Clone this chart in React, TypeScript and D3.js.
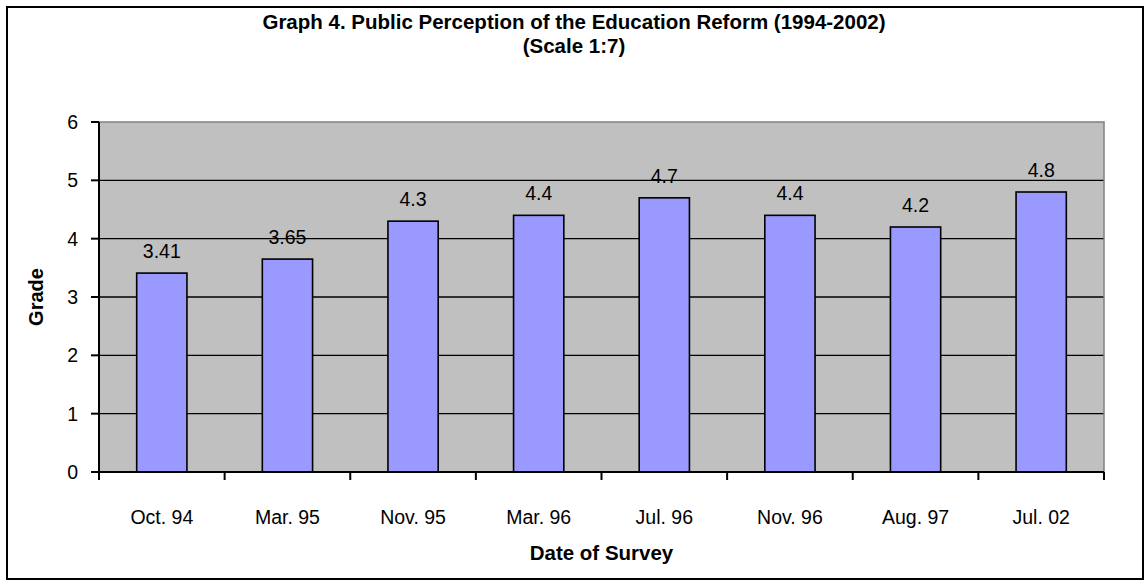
import React, { useEffect, useRef } from 'react';
import * as d3 from 'd3';

const categories = ['Oct. 94', 'Mar. 95', 'Nov. 95', 'Mar. 96', 'Jul. 96', 'Nov. 96', 'Aug. 97', 'Jul. 02'];
const grades = [3.41, 3.65, 4.3, 4.4, 4.7, 4.4, 4.2, 4.8];
const gradeLabels = ['3.41', '3.65', '4.3', '4.4', '4.7', '4.4', '4.2', '4.8'];
const yTicks = [0, 1, 2, 3, 4, 5, 6];

const FONT = "'Liberation Sans', Arial, sans-serif";

const App = () => {
  const ref = useRef<SVGSVGElement>(null);

  useEffect(() => {
    const svg = d3.select(ref.current);
    svg.selectAll('*').remove();

    const plot = { left: 99, right: 1104, top: 122, bottom: 472 };

    // outer frame
    svg.append('rect')
      .attr('x', 7).attr('y', 7)
      .attr('width', 1136).attr('height', 572)
      .attr('fill', '#fff')
      .attr('stroke', '#000')
      .attr('stroke-width', 2);

    const x = d3.scaleBand<string>()
      .domain(categories)
      .range([plot.left, plot.right])
      .paddingInner(0.6)
      .paddingOuter(0.3);

    const y = d3.scaleLinear().domain([0, 6]).range([plot.bottom, plot.top]);

    // plot background
    svg.append('rect')
      .attr('x', plot.left).attr('y', plot.top)
      .attr('width', plot.right - plot.left)
      .attr('height', plot.bottom - plot.top)
      .attr('fill', '#c0c0c0');

    // gridlines
    svg.append('g')
      .selectAll('line')
      .data(yTicks.filter(t => t > 0 && t < 6))
      .enter()
      .append('line')
      .attr('x1', plot.left).attr('x2', plot.right)
      .attr('y1', d => y(d)).attr('y2', d => y(d))
      .attr('stroke', '#000')
      .attr('stroke-width', 1.3);

    // top / right border in gray
    svg.append('path')
      .attr('d', `M${plot.left},${plot.top}H${plot.right}V${plot.bottom}`)
      .attr('fill', 'none')
      .attr('stroke', '#808080')
      .attr('stroke-width', 1.5);

    // bars
    const bars = svg.append('g');
    bars.selectAll('rect')
      .data(grades)
      .enter()
      .append('rect')
      .attr('x', (d, i) => x(categories[i])!)
      .attr('y', d => y(d))
      .attr('width', x.bandwidth())
      .attr('height', d => y(0) - y(d))
      .attr('fill', '#9999ff')
      .attr('stroke', '#000')
      .attr('stroke-width', 1.6);

    bars.selectAll('text')
      .data(grades)
      .enter()
      .append('text')
      .attr('x', (d, i) => x(categories[i])! + x.bandwidth() / 2)
      .attr('y', d => y(d) - 15)
      .attr('text-anchor', 'middle')
      .attr('font-family', FONT)
      .attr('font-size', 19.5)
      .attr('fill', '#000')
      .text((d, i) => gradeLabels[i]);

    // y axis
    const yAxis = svg.append('g');
    yAxis.append('line')
      .attr('x1', plot.left).attr('x2', plot.left)
      .attr('y1', plot.top).attr('y2', plot.bottom)
      .attr('stroke', '#000').attr('stroke-width', 2);
    yAxis.selectAll('line.tick')
      .data(yTicks)
      .enter()
      .append('line')
      .attr('class', 'tick')
      .attr('x1', plot.left - 8).attr('x2', plot.left)
      .attr('y1', d => y(d)).attr('y2', d => y(d))
      .attr('stroke', '#000').attr('stroke-width', 2);
    yAxis.selectAll('text')
      .data(yTicks)
      .enter()
      .append('text')
      .attr('x', plot.left - 21)
      .attr('y', d => y(d))
      .attr('dy', '0.36em')
      .attr('text-anchor', 'end')
      .attr('font-family', FONT)
      .attr('font-size', 19.5)
      .text(d => d);

    // x axis
    const xAxis = svg.append('g');
    xAxis.append('line')
      .attr('x1', plot.left).attr('x2', plot.right)
      .attr('y1', plot.bottom).attr('y2', plot.bottom)
      .attr('stroke', '#000').attr('stroke-width', 2);
    const step = (plot.right - plot.left) / categories.length;
    xAxis.selectAll('line.tick')
      .data(d3.range(categories.length + 1))
      .enter()
      .append('line')
      .attr('class', 'tick')
      .attr('x1', i => plot.left + i * step).attr('x2', i => plot.left + i * step)
      .attr('y1', plot.bottom).attr('y2', plot.bottom + 8)
      .attr('stroke', '#000').attr('stroke-width', 2);
    xAxis.selectAll('text')
      .data(categories)
      .enter()
      .append('text')
      .attr('x', d => x(d)! + x.bandwidth() / 2)
      .attr('y', 524)
      .attr('text-anchor', 'middle')
      .attr('font-family', FONT)
      .attr('font-size', 19.5)
      .text(d => d);

    // axis titles
    svg.append('text')
      .attr('x', (plot.left + plot.right) / 2)
      .attr('y', 560)
      .attr('text-anchor', 'middle')
      .attr('font-family', FONT)
      .attr('font-weight', 'bold')
      .attr('font-size', 20.5)
      .text('Date of Survey');

    svg.append('text')
      .attr('transform', `translate(43,${(plot.top + plot.bottom) / 2}) rotate(-90)`)
      .attr('text-anchor', 'middle')
      .attr('font-family', FONT)
      .attr('font-weight', 'bold')
      .attr('font-size', 20)
      .text('Grade');

    // title
    const title = svg.append('text')
      .attr('text-anchor', 'middle')
      .attr('font-family', FONT)
      .attr('font-weight', 'bold')
      .attr('font-size', 20.5);
    title.append('tspan').attr('x', 574).attr('y', 29)
      .text('Graph 4. Public Perception of the Education Reform (1994-2002)');
    title.append('tspan').attr('x', 574).attr('y', 53)
      .text('(Scale 1:7)');
  }, []);

  return (
    <svg
      ref={ref}
      width={1146}
      height={582}
      style={{ position: 'absolute', left: 0, top: 0, background: '#fff' }}
    />
  );
};

export default App;
